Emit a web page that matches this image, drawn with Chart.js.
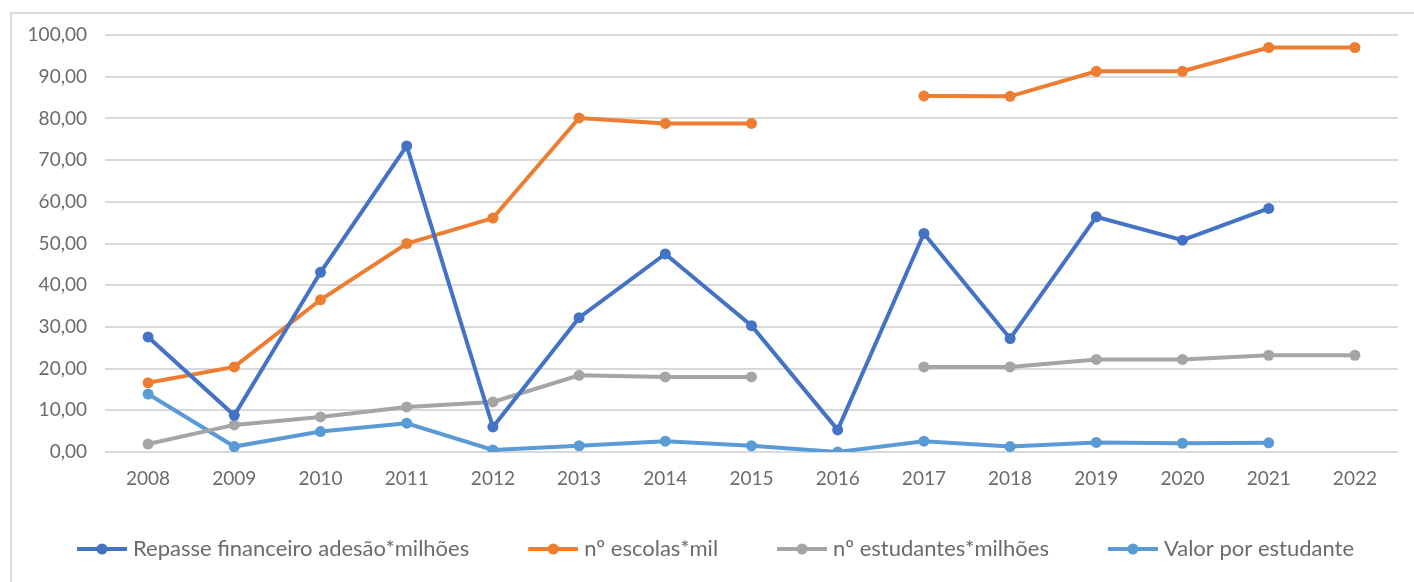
<!DOCTYPE html>
<html lang="pt">
<head>
<meta charset="utf-8">
<script src="https://cdn.jsdelivr.net/npm/chart.js@4.4.1/dist/chart.umd.min.js"></script>
<style>
  html, body { margin: 0; padding: 0; background: #ffffff; }
  #wrap { position: relative; width: 1414px; height: 582px; overflow: hidden; }
  #frame { position: absolute; left: 10px; top: 12px; width: 1420px; height: 600px;
           border-top: 2px solid #d9d9d9; border-left: 2px solid #d9d9d9; box-sizing: border-box; }
  #c { position: absolute; left: 0; top: 0; }
</style>
</head>
<body>
<div id="wrap">
  <div id="frame"></div>
  <canvas id="c" width="1414" height="582"></canvas>
</div>
<script>
// Anos
const anos = ['2008','2009','2010','2011','2012','2013','2014','2015','2016','2017','2018','2019','2020','2021','2022'];

// Repasse financeiro adesão (milhões)
const repasse = [27.6, 8.8, 43.1, 73.4, 6.0, 32.2, 47.5, 30.3, 5.3, 52.4, 27.2, 56.4, 50.8, 58.4, null];
// nº escolas (mil)
const escolas = [16.6, 20.4, 36.5, 50.0, 56.1, 80.1, 78.8, 78.8, null, 85.4, 85.3, 91.3, 91.3, 97.0, 97.0];
// nº estudantes (milhões)
const estudantes = [1.9, 6.5, 8.4, 10.8, 12.0, 18.4, 18.0, 18.0, null, 20.4, 20.4, 22.2, 22.2, 23.2, 23.2];
// Valor por estudante
const valorEstudante = [13.9, 1.3, 4.9, 6.9, 0.5, 1.5, 2.6, 1.5, 0.0, 2.6, 1.3, 2.3, 2.1, 2.2, null];

const nomes = ['Repasse financeiro adesão*milhões', 'nº escolas*mil', 'nº estudantes*milhões', 'Valor por estudante'];
const cores = ['#4472C4', '#ED7D31', '#A5A5A5', '#5B9BD5'];

const FONT = 'Lato, "Open Sans", sans-serif';
const TEXT = '#6b6b6b';

// legend marker: short line with a dot, sitting at the right end of a wider transparent box
function legendMarker(color) {
  const cv = document.createElement('canvas');
  cv.width = 70; cv.height = 12;
  const g = cv.getContext('2d');
  g.strokeStyle = color; g.lineWidth = 4;
  g.beginPath(); g.moveTo(20, 6); g.lineTo(70, 6); g.stroke();
  g.fillStyle = color;
  g.beginPath(); g.arc(45, 6, 5.5, 0, Math.PI * 2); g.fill();
  return cv;
}
const marcadores = cores.map(legendMarker);

function serie(i, data) {
  return {
    label: nomes[i],
    data: data,
    borderColor: cores[i],
    backgroundColor: cores[i],
    borderWidth: 4,
    pointRadius: 5.5,
    pointHoverRadius: 5.5,
    pointBorderWidth: 0,
    tension: 0,
    spanGaps: false
  };
}

// nudge the legend row horizontally
const LEGEND_SHIFT = 4;
const legendShift = {
  id: 'legendShift',
  afterLayout(chart) {
    const lg = chart.legend;
    if (lg) { lg.left += LEGEND_SHIFT; lg.right += LEGEND_SHIFT; }
  }
};

new Chart(document.getElementById('c'), {
  type: 'line',
  data: {
    labels: anos,
    datasets: [serie(0, repasse), serie(1, escolas), serie(2, estudantes), serie(3, valorEstudante)]
  },
  plugins: [legendShift],
  options: {
    responsive: false,
    animation: false,
    layout: { padding: { left: 10, right: 16, top: 35, bottom: 12 } },
    scales: {
      x: {
        offset: true,
        grid: { display: false },
        border: { display: false },
        ticks: { color: TEXT, font: { family: FONT, size: 19 }, padding: 7, maxRotation: 0 },
        afterFit(s) { s.height = 42; }
      },
      y: {
        min: 0, max: 100,
        grid: { color: '#d9d9d9', lineWidth: 2, drawTicks: false },
        border: { display: false },
        ticks: {
          stepSize: 10, padding: 18, color: TEXT,
          font: { family: FONT, size: 19 },
          callback: v => v.toFixed(2).replace('.', ',')
        },
        afterFit(s) { s.width = 95; }
      }
    },
    plugins: {
      tooltip: { enabled: false },
      legend: {
        position: 'bottom',
        labels: {
          usePointStyle: true,
          pointStyleWidth: 60,
          padding: 44,
          color: TEXT,
          font: { family: FONT, size: 22 },
          generateLabels(chart) {
            const items = Chart.defaults.plugins.legend.labels.generateLabels(chart);
            items.forEach((it, i) => { it.pointStyle = marcadores[i]; });
            return items;
          }
        }
      }
    }
  }
});
</script>
</body>
</html>
